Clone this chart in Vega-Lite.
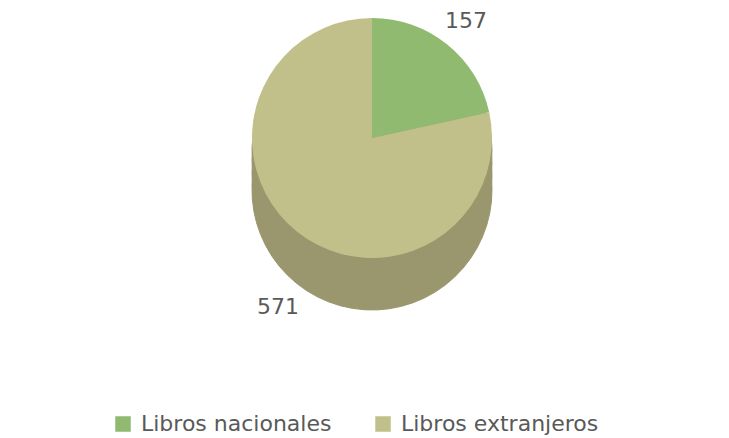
{
  "$schema": "https://vega.github.io/schema/vega-lite/v6.json",
  "width": 714,
  "height": 240,
  "autosize": {"type": "none"},
  "padding": {"top": 18, "left": 15, "right": 0, "bottom": 180},
  "background": "white",
  "data": {
    "values": [
      {"categoria": "Libros nacionales", "libros": 157, "orden": 1},
      {"categoria": "Libros extranjeros", "libros": 571, "orden": 2}
    ]
  },
  "encoding": {
    "theta": {"field": "libros", "type": "quantitative", "stack": true},
    "order": {"field": "orden", "type": "ordinal"}
  },
  "layer": [
    {"mark": {"type": "arc", "outerRadius": 120, "yOffset": 52, "color": "#9A966E", "stroke": "#9A966E", "strokeWidth": 1}},
    {"mark": {"type": "arc", "outerRadius": 120, "yOffset": 39, "color": "#9A966E", "stroke": "#9A966E", "strokeWidth": 1}},
    {"mark": {"type": "arc", "outerRadius": 120, "yOffset": 26, "color": "#9A966E", "stroke": "#9A966E", "strokeWidth": 1}},
    {"mark": {"type": "arc", "outerRadius": 120, "yOffset": 13, "color": "#9A966E", "stroke": "#9A966E", "strokeWidth": 1}},
    {
      "mark": {"type": "arc", "outerRadius": 120},
      "encoding": {
        "color": {
          "field": "categoria",
          "type": "nominal",
          "scale": {"domain": ["Libros nacionales", "Libros extranjeros"], "range": ["#8FBA70", "#C2C08A"]},
          "legend": {
            "title": null,
            "orient": "none",
            "direction": "horizontal",
            "legendX": 97,
            "legendY": 395,
            "symbolType": "square",
            "symbolSize": 240,
            "symbolStrokeWidth": 0,
            "labelFontSize": 22,
            "labelFont": "DejaVu Sans",
            "labelColor": "#595959",
            "labelOffset": 7,
            "columnPadding": 40,
            "labelLimit": 400
          }
        }
      }
    },
    {
      "mark": {"type": "text", "radius": 150, "font": "DejaVu Sans", "fontSize": 22, "color": "#595959"},
      "encoding": {
        "text": {"condition": {"test": "datum.categoria === 'Libros nacionales'", "field": "libros", "type": "quantitative"}, "value": ""}
      }
    },
    {
      "mark": {"type": "text", "radius": 150, "yOffset": 52, "font": "DejaVu Sans", "fontSize": 22, "color": "#595959"},
      "encoding": {
        "text": {"condition": {"test": "datum.categoria === 'Libros extranjeros'", "field": "libros", "type": "quantitative"}, "value": ""}
      }
    }
  ],
  "config": {"view": {"stroke": null}}
}
